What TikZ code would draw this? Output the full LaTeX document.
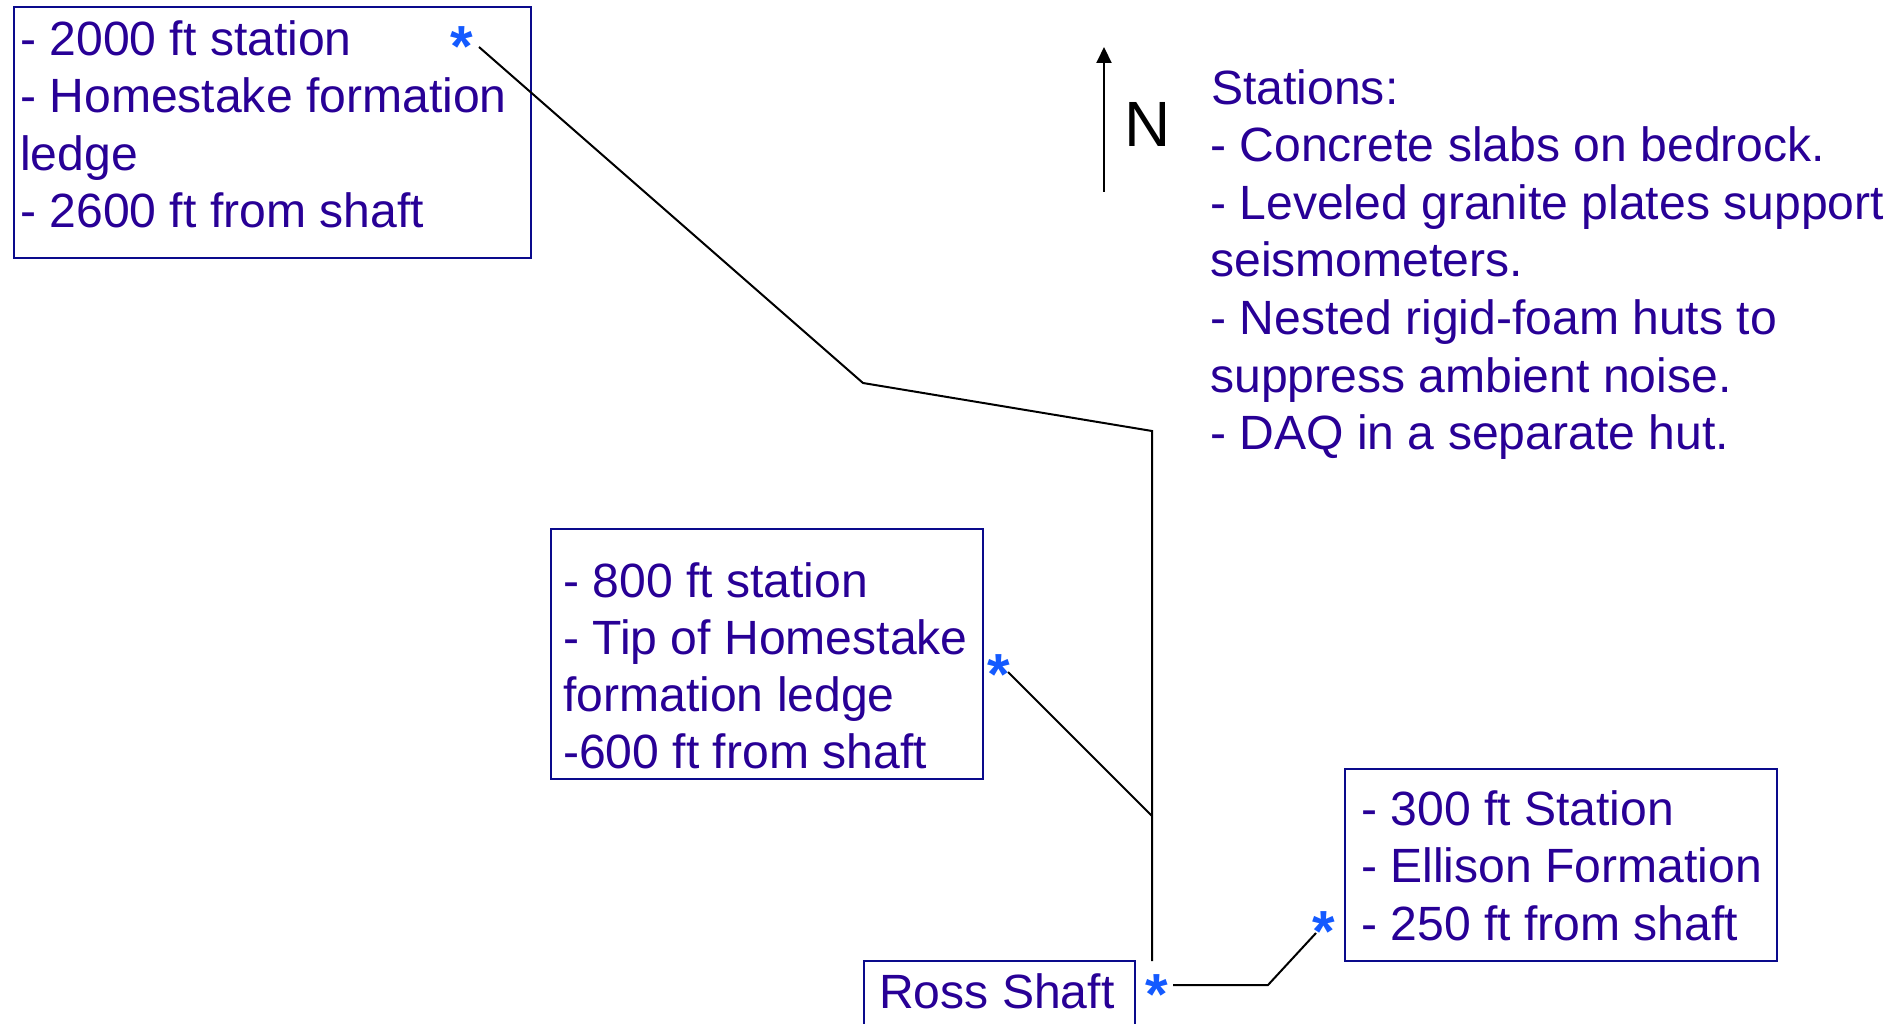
\documentclass[tikz,border=0pt]{standalone}
\usepackage{fontspec}
\setmainfont{Liberation Sans}
\usetikzlibrary{arrows.meta}
\definecolor{txtc}{RGB}{40,0,150}
\definecolor{boxc}{RGB}{10,10,140}
\definecolor{starc}{RGB}{20,90,255}
\begin{document}
\begin{tikzpicture}[x=1pt,y=-1pt,
  txt/.style={inner sep=0pt, anchor=base west, text=txtc, font=\fontsize{48.1}{57.5}\selectfont},
  boxst/.style={draw=boxc, line width=2pt, inner sep=0pt, anchor=north west},
  starnode/.style={inner sep=0pt, anchor=base, text=starc, font=\fontsize{58}{60}\selectfont\bfseries},
  conn/.style={draw=black, line width=2pt},
  northlbl/.style={inner sep=0pt, anchor=base west, text=black, font=\fontsize{64}{70}\selectfont}]
\useasboundingbox[fill=white] (0,0) rectangle (1895,1024);

% boxes
\node[boxst, minimum width=517pt, minimum height=251pt] (box1) at (13,6) {};
\node[boxst, minimum width=432pt, minimum height=250pt] (box2) at (550,528) {};
\node[boxst, minimum width=432pt, minimum height=192pt] (box3) at (1344,768) {};
\node[boxst, minimum width=271pt, minimum height=80pt] (ross) at (863,960) {};

% box 1 text
\node[txt] (b1a) at (20,55.5) {- 2000 ft station};
\node[txt] (b1b) at (20,113) {- Homestake formation};
\node[txt] (b1c) at (20,170.5) {ledge};
\node[txt] (b1d) at (20,228) {- 2600 ft from shaft};

% box 2 text
\node[txt] (b2a) at (563,597) {- 800 ft station};
\node[txt] (b2b) at (563,654) {- Tip of Homestake};
\node[txt] (b2c) at (563,711) {formation ledge};
\node[txt] (b2d) at (563,768) {-600 ft from shaft};

% box 3 text
\node[txt] (b3a) at (1361,825) {- 300 ft Station};
\node[txt] (b3b) at (1361,882) {- Ellison Formation};
\node[txt] (b3c) at (1361,940) {- 250 ft from shaft};

% Ross shaft
\node[txt] (rossl) at (879,1008) {Ross Shaft};

% stations notes
\node[txt] (st1) at (1211,104.5) {Stations:};
\node[txt] (st2) at (1210,162) {- Concrete slabs on bedrock.};
\node[txt] (st3) at (1210,219.5) {- Leveled granite plates support};
\node[txt] (st4) at (1210,277) {seismometers.};
\node[txt] (st5) at (1210,334.5) {- Nested rigid-foam huts to};
\node[txt] (st6) at (1210,392) {suppress ambient noise.};
\node[txt] (st7) at (1210,449.5) {- DAQ in a separate hut.};

% stars
\node[starnode] (s1) at (462,67) {*};
\node[starnode] (s2) at (999,694) {*};
\node[starnode] (s3) at (1157,1014) {*};
\node[starnode] (s4) at (1324,951) {*};

% connector points
\coordinate (p1) at (479,47);
\coordinate (k1) at (863,383);
\coordinate (k2) at (1152,431);
\coordinate (k3) at (1152,816);
\coordinate (k4) at (1152,961);
\coordinate (p2) at (1008,672);
\coordinate (p3) at (1173,985);
\coordinate (k5) at (1268,985);
\coordinate (p4) at (1316,933);

\draw[conn] (p1) -- (k1) -- (k2) -- (k4);
\draw[conn] (p2) -- (k3);
\draw[conn] (p3) -- (k5) -- (p4);

% north arrow
\coordinate (ntail) at (1104,192);
\coordinate (nhead) at (1104,47);
\draw[line width=2pt, -{Triangle[length=16pt,width=15pt]}] (ntail) -- (nhead);
\node[northlbl] (nlbl) at (1124,147) {N};
\end{tikzpicture}
\end{document}
